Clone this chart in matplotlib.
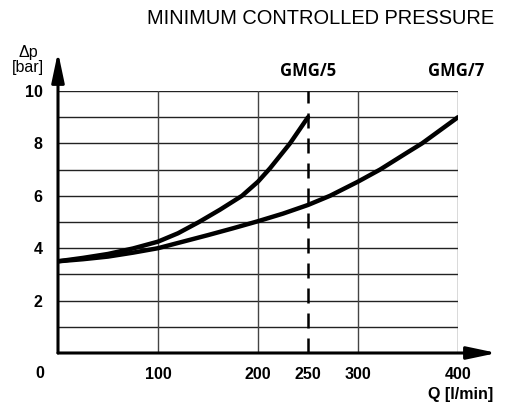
import matplotlib
matplotlib.use("Agg")
import matplotlib.pyplot as plt

# flow Q [l/min] vs minimum controlled pressure dp [bar]
q_gmg5 = [0, 25, 50, 75, 100, 120, 141, 162, 184, 200, 212, 232, 250]
dp_gmg5 = [3.5, 3.63, 3.78, 3.99, 4.25, 4.57, 5.0, 5.47, 6.0, 6.54, 7.05, 8.0, 9.0]

q_gmg7 = [0, 25, 50, 75, 100, 125, 150, 175, 200, 225, 250, 272, 300, 322, 350,
          364, 400]
dp_gmg7 = [3.5, 3.58, 3.68, 3.83, 4.0, 4.25, 4.5, 4.76, 5.03, 5.32, 5.65, 6.0, 6.54,
           7.0, 7.67, 8.0, 9.0]

x_ticks = [100, 200, 250, 300, 400]
y_ticks = [2, 4, 6, 8, 10]
x_grid = [100, 200, 300, 400]
y_grid = [1, 2, 3, 4, 5, 6, 7, 8, 9, 10]
q_limit = 250

plt.rcParams["font.family"] = ["Liberation Sans", "DejaVu Sans"]

fig = plt.figure(figsize=(5.05, 4.08), dpi=100)
ax = fig.add_axes([58 / 505, 55 / 408, 400 / 505, 262 / 408])
ax.set_xlim(0, 400)
ax.set_ylim(0, 10)
for s in ax.spines.values():
    s.set_visible(False)

for gy in y_grid:
    ax.plot([0, 400], [gy, gy], color="#222222", lw=1.0, zorder=1)
for gx in x_grid:
    ax.plot([gx, gx], [0, 10], color="#444444", lw=1.0, zorder=1)

ax.plot([q_limit, q_limit], [0, 10], color="black", lw=1.8,
        dashes=(6, 4), zorder=2)

ax.plot(q_gmg5, dp_gmg5, color="black", lw=3.2, solid_capstyle="round", zorder=3)
ax.plot(q_gmg7, dp_gmg7, color="black", lw=3.2, solid_capstyle="round", zorder=3)

# axes with arrow heads
arrow = dict(arrowstyle="-|>,head_length=1.8,head_width=0.38", color="black",
             lw=2.2, mutation_scale=10, shrinkA=0, shrinkB=0)
ax.annotate("", xy=(0, 1.149), xytext=(0, 0), xycoords="axes fraction",
            arrowprops=arrow, annotation_clip=False)
ax.annotate("", xy=(1.0975, 0), xytext=(0, 0), xycoords="axes fraction",
            arrowprops=arrow, annotation_clip=False)

ax.set_xticks(x_ticks)
ax.set_xticklabels([str(v) for v in x_ticks], fontsize=11.5, fontweight="bold")
ax.set_yticks(y_ticks)
ax.set_yticklabels([str(v) for v in y_ticks], fontsize=11.5, fontweight="bold")
ax.tick_params(axis="x", length=0, pad=10)
ax.tick_params(axis="y", length=0, pad=11)
ax.annotate("0", xy=(0, 0), xytext=(-18, -20), textcoords="offset pixels",
            ha="center", va="center", fontsize=11.5, fontweight="bold")

fig.text(493 / 505, 1 - 394 / 408, "Q [l/min]", ha="right", va="center",
         fontsize=11.5, fontweight="bold")
fig.text(28 / 505, 1 - 60 / 408, "Δp\n[bar]", ha="center", va="center",
         fontsize=11.5, linespacing=1.0)
fig.text(494 / 505, 1 - 19 / 408, "MINIMUM CONTROLLED PRESSURE",
         ha="right", va="center", fontsize=14.4)

ax.text(250, 10.76, "GMG/5", ha="center", va="center", fontsize=12,
        fontweight="bold", family="Open Sans")
ax.text(398, 10.76, "GMG/7", ha="center", va="center", fontsize=12,
        fontweight="bold", family="Open Sans")

fig.savefig("out.png", dpi=100)
